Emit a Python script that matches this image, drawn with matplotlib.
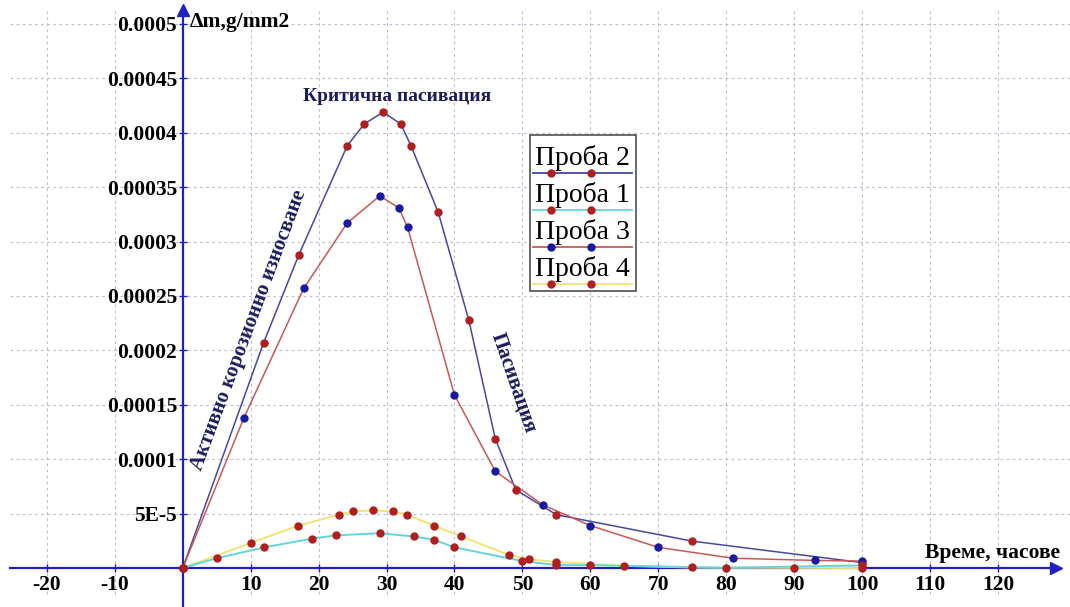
import numpy as np
import matplotlib.pyplot as plt
from matplotlib.patches import Rectangle
from matplotlib.lines import Line2D

# ---------------------------------------------------------------------------
# data
# ---------------------------------------------------------------------------
# Проба 2 : blue line, red markers
x_p2 = [0, 11.9, 17.1, 24.2, 26.7, 29.5, 32.1, 33.6, 37.6, 42.1, 46, 49, 55, 75, 100]
y_p2 = [0, 2.07e-4, 2.88e-4, 3.88e-4, 4.08e-4, 4.19e-4, 4.08e-4, 3.88e-4, 3.27e-4,
        2.28e-4, 1.19e-4, 7.2e-5, 4.9e-5, 2.47e-5, 5e-6]

# Проба 3 : red line, blue markers
x_p3 = [0, 9, 17.8, 24.2, 29, 31.8, 33.1, 40, 46, 53, 60, 70, 81, 93, 100]
y_p3 = [0, 1.38e-4, 2.57e-4, 3.17e-4, 3.42e-4, 3.31e-4, 3.13e-4, 1.59e-4, 8.9e-5,
        5.8e-5, 3.9e-5, 1.9e-5, 9e-6, 7e-6, 6.4e-6]

# Проба 4 : yellow line, red markers
x_p4 = [0, 10, 17, 23, 25, 28, 31, 33, 37, 41, 48, 51, 55, 65, 75, 90, 100]
y_p4 = [0, 2.3e-5, 3.9e-5, 4.9e-5, 5.2e-5, 5.3e-5, 5.2e-5, 4.9e-5, 3.9e-5, 2.9e-5,
        1.2e-5, 8e-6, 5.5e-6, 2e-6, 5e-7, 2e-7, 0]

# Проба 1 : cyan line, red markers
x_p1 = [0, 5, 12, 19, 22.5, 29, 34, 37, 40, 50, 55, 60, 80, 100]
y_p1 = [0, 9e-6, 1.9e-5, 2.7e-5, 3e-5, 3.2e-5, 2.9e-5, 2.6e-5, 1.9e-5, 6.4e-6,
        2.7e-6, 2.7e-6, 2e-7, 2.5e-6]

x_ticks = [-20, -10, 10, 20, 30, 40, 50, 60, 70, 80, 90, 100, 110, 120]
y_ticks = [5e-5, 1e-4, 1.5e-4, 2e-4, 2.5e-4, 3e-4, 3.5e-4, 4e-4, 4.5e-4, 5e-4]
y_tick_labels = ["5E-5", "0.0001", "0.00015", "0.0002", "0.00025", "0.0003",
                 "0.00035", "0.0004", "0.00045", "0.0005"]

legend_names = ["Проба 2", "Проба 1", "Проба 3", "Проба 4"]

# ---------------------------------------------------------------------------
# figure
# ---------------------------------------------------------------------------
W, H = 1070, 607
fig = plt.figure(figsize=(W / 100, H / 100), dpi=100)
ax = fig.add_axes([0, 0, 1, 1])
serif = ["Liberation Serif", "DejaVu Serif"]

xmin, xmax = -26.9, 130.6
ymin, ymax = -3.58e-5, 5.22e-4
ax.set_xlim(xmin, xmax)
ax.set_ylim(ymin, ymax)


def px(x, y):
    """pixel position of the reference -> axes fraction"""
    return x / W, 1 - y / H


axis_col = "#2020c0"
grid_col = "#bcbcd4"

# grid
for xv in x_ticks:
    ax.plot([xv, xv], [ymin + 1.2e-5, ymax - 1.0e-5], color=grid_col, lw=0.8,
            dashes=(2.5, 3), zorder=1)
for yv in y_ticks:
    ax.plot([xmin + 1.4, xmax], [yv, yv], color=grid_col, lw=0.8,
            dashes=(2.5, 3), zorder=1)

# axes with arrows
for s in ["top", "right"]:
    ax.spines[s].set_visible(False)
ax.spines["left"].set_position(("data", 0))
ax.spines["bottom"].set_position(("data", 0))
ax.spines["left"].set_color(axis_col)
ax.spines["bottom"].set_color(axis_col)
ax.spines["left"].set_linewidth(1.6)
ax.spines["bottom"].set_linewidth(1.6)
ax.spines["bottom"].set_bounds(xmin + 1.4, 128)
ax.spines["left"].set_bounds(ymin, 5.1e-4)
ax.plot(128.5, 0, ">", color=axis_col, ms=9, clip_on=False, zorder=5)
ax.plot(0, 5.13e-4, "^", color=axis_col, ms=9, clip_on=False, zorder=5)

ax.set_xticks(x_ticks)
ax.set_xticklabels([str(v) for v in x_ticks])
ax.set_yticks(y_ticks)
ax.set_yticklabels(y_tick_labels)
ax.tick_params(axis="both", colors=axis_col, direction="inout", length=6, width=1)
ax.tick_params(axis="x", pad=2)
ax.tick_params(axis="y", pad=1)
for lab in ax.get_xticklabels() + ax.get_yticklabels():
    lab.set_family(serif)
    lab.set_fontweight("bold")
    lab.set_fontsize(15.5)
    lab.set_color("black")

# curves
ax.plot(x_p2, y_p2, color="#4848a0", lw=1.1, zorder=3)
ax.plot(x_p3, y_p3, color="#c85a55", lw=1.1, zorder=3)
ax.plot(x_p4, y_p4, color="#f2e27a", lw=1.4, zorder=3)
ax.plot(x_p1, y_p1, color="#62d6dc", lw=1.4, zorder=3)

red_m = "#b01e1e"
blue_m = "#1a1aa0"
ax.plot(x_p2, y_p2, "o", color=red_m, ms=5, zorder=4)
ax.plot(x_p3, y_p3, "o", color=blue_m, ms=5, zorder=4)
ax.plot(x_p4, y_p4, "o", color=red_m, ms=5, zorder=4)
ax.plot(x_p1, y_p1, "o", color=red_m, ms=5, zorder=4)

# axis titles
ax.text(*px(190, 22), "Δm,g/mm2", transform=ax.transAxes, family=serif,
        fontweight="bold", fontsize=15.5, ha="left", va="center")
ax.text(*px(1060, 558), "Време, часове", transform=ax.transAxes, family=serif,
        fontweight="bold", fontsize=15.5, ha="right", va="baseline")

# annotations
navy = "#1c1c5c"
ax.text(*px(397, 97), "Критична пасивация", transform=ax.transAxes, family=serif,
        fontweight="bold", fontsize=14, color=navy, ha="center", va="center")
ax.text(*px(249, 330), "Активно корозионно износване", transform=ax.transAxes,
        family=serif, fontweight="bold", fontsize=15, color=navy,
        ha="center", va="center", rotation=69.5, rotation_mode="anchor")
ax.text(*px(514, 383), "Пасивация", transform=ax.transAxes, family=serif,
        fontweight="bold", fontsize=15, color=navy, ha="center", va="center",
        rotation=-71, rotation_mode="anchor")

# legend (drawn by hand: text above its line sample)
x0, y0 = px(530, 291)
x1, y1 = px(636, 135)
ax.add_patch(Rectangle((x0, y0), x1 - x0, y1 - y0, transform=ax.transAxes,
                       facecolor="white", edgecolor="#505050", lw=1.2, zorder=6))
leg_line = ["#4848a0", "#62d6dc", "#c85a55", "#f2e27a"]
leg_mark = [red_m, red_m, blue_m, red_m]
for i, name in enumerate(legend_names):
    base = 165 + 37 * i
    ax.text(*px(535, base), name, transform=ax.transAxes, family=serif,
            fontsize=20, color="black", ha="left", va="baseline", zorder=7)
    lx0, ly = px(533, base + 8)
    lx1, _ = px(632, base + 8)
    ax.add_line(Line2D([lx0, lx1], [ly, ly], transform=ax.transAxes,
                       color=leg_line[i], lw=1.3, zorder=7))
    mx = [px(551, 0)[0], px(591, 0)[0]]
    ax.add_line(Line2D(mx, [ly, ly], transform=ax.transAxes, ls="none",
                       marker="o", ms=5, color=leg_mark[i], zorder=8))

fig.savefig("out.png", dpi=100)
